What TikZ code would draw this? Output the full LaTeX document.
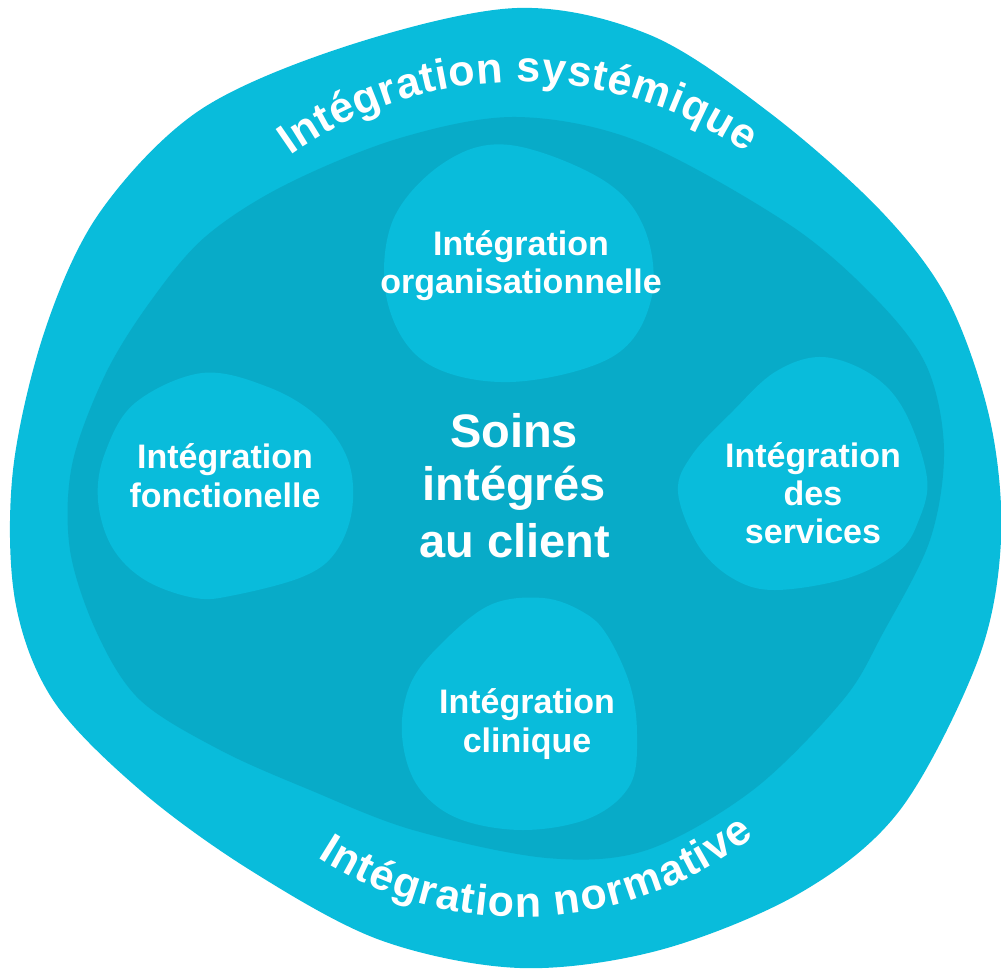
\documentclass[tikz,border=0pt]{standalone}
\usepackage{fontspec}
\setmainfont{Liberation Sans}
\usetikzlibrary{decorations.text}
\definecolor{cyanL}{RGB}{9,188,219}
\definecolor{cyanD}{RGB}{8,171,200}
\newcommand{\arcfont}{\bfseries\fontsize{43}{43}\selectfont}
\begin{document}
\begin{tikzpicture}[x=1pt,y=1pt,
  blobtxt/.style={text=white, font=\bfseries\fontsize{34}{38}\selectfont, inner sep=0pt, anchor=base},
  bigtxt/.style={text=white, font=\bfseries\fontsize{47}{52}\selectfont, inner sep=0pt, anchor=base},
  lightfill/.style={fill=cyanL},
  darkfill/.style={fill=cyanD},
  arctext/.style={decorate, decoration={text effects along path, text={#1},
     text effects/.cd, text along path, fit text to path,
     characters={text=white, font=\arcfont}}}]
\useasboundingbox (0,0) rectangle (1001,-970);
% outer blob
\path[lightfill] plot[smooth cycle, tension=0.55] coordinates {
 (517,-8) (650,-35) (770,-113) (880,-210) (948,-300) (990,-420) (1001,-540)
 (978,-660) (900,-810) (800,-893) (660,-950) (520,-968) (380,-940) (250,-870)
 (140,-790) (53,-700) (15,-600) (13,-470) (45,-330) (100,-212) (200,-110) (350,-45)};
% inner dark blob
\path[darkfill] plot[smooth cycle, tension=0.55] coordinates {
 (517,-117) (640,-142) (790,-225) (877,-300) (927,-367) (944,-450) (930,-540)
 (883,-633) (843,-700) (753,-790) (647,-850) (547,-858) (413,-830) (310,-790)
 (220,-750) (140,-700) (97,-633) (70,-550) (72,-465) (105,-375) (150,-302)
 (205,-237) (285,-185) (400,-138)};
% small blobs
\path[lightfill] plot[smooth cycle, tension=0.6] coordinates {
 (510,-145) (603,-180) (645,-230) (651,-300) (612,-357) (510,-382) (425,-362)
 (387,-300) (393,-220) (445,-162)};
\path[lightfill] plot[smooth cycle, tension=0.6] coordinates {
 (202,-373) (268,-387) (318,-417) (348,-460) (352,-510) (335,-553) (302,-577)
 (235,-595) (195,-598) (145,-580) (112,-547) (98,-500) (105,-453) (135,-403)};
\path[lightfill] plot[smooth cycle, tension=0.6] coordinates {
 (822,-357) (872,-375) (905,-412) (927,-478) (918,-522) (898,-552) (848,-578)
 (775,-590) (732,-578) (698,-545) (678,-492) (692,-455) (732,-412) (775,-372)};
\path[lightfill] plot[smooth cycle, tension=0.6] coordinates {
 (543,-598) (583,-612) (607,-635) (630,-685) (637,-735) (630,-785) (590,-818)
 (523,-830) (457,-818) (417,-785) (402,-735) (410,-685) (440,-645) (490,-605)};
% texts
\node[blobtxt] (org1) at (521,-255) {Intégration};
\node[blobtxt] (org2) at (521,-293) {organisationnelle};
\node[blobtxt] (fon1) at (225,-468) {Intégration};
\node[blobtxt] (fon2) at (225,-507) {fonctionelle};
\node[blobtxt] (ser1) at (813,-467) {Intégration};
\node[blobtxt] (ser2) at (813,-505) {des};
\node[blobtxt] (ser3) at (813,-543) {services};
\node[blobtxt] (cli1) at (527,-713) {Intégration};
\node[blobtxt] (cli2) at (527,-752) {clinique};
\node[bigtxt] (c1) at (514,-447) {Soins};
\node[bigtxt] (c2) at (514,-500) {intégrés};
\node[bigtxt] (c3) at (515,-557) {au client};
% curved labels
\path[arctext={Intégration systémique}] (520,-479) ++(125.4:397) arc[start angle=125.4, end angle=55.3, radius=397];
\path[arctext={Intégration normative}] (521,-540) ++(237.3:377) arc[start angle=237.3, end angle=308.3, radius=377];
\end{tikzpicture}
\end{document}
